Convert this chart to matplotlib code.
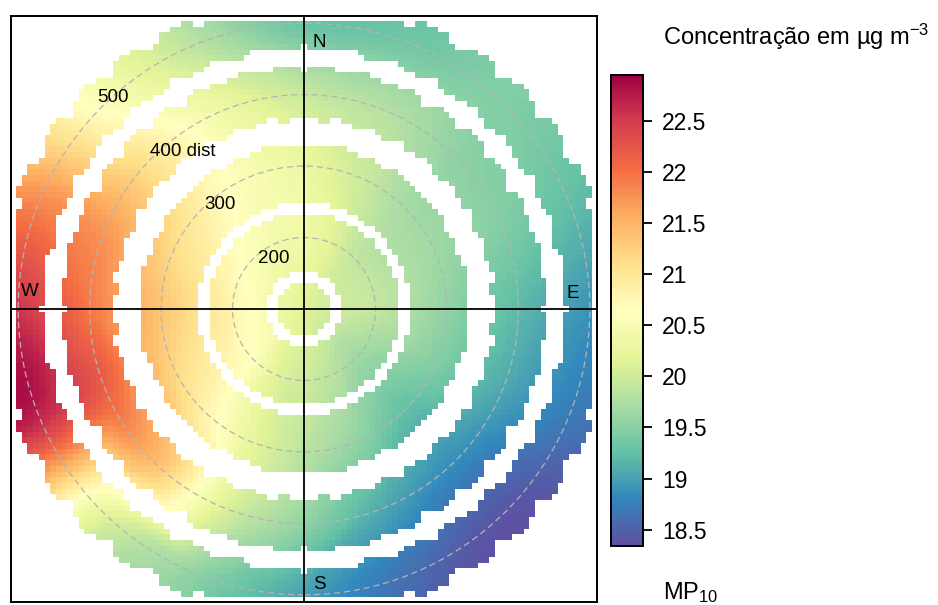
import numpy as np
import matplotlib
matplotlib.use("Agg")
import matplotlib.pyplot as plt
import matplotlib.tri as mtri

plt.rcParams['font.family'] = ['Liberation Sans', 'DejaVu Sans']
plt.rcParams['mathtext.fontset'] = 'custom'
plt.rcParams['mathtext.rm'] = 'Liberation Sans'
plt.rcParams['mathtext.it'] = 'Liberation Sans:italic'

# sectors in degrees from north, clockwise
directions = [0, 22.5, 45, 67.5, 90, 112.5, 135, 157.5,
              180, 202.5, 225, 247.5, 270, 292.5, 315, 337.5]
dist_min = 100
centre_value = 20.15
# smoothed MP10 (ug/m3) per sector at each distance
mp10_200 = [20.35, 20.15, 19.9, 19.9, 19.9, 19.75, 19.65, 19.85,
            20.0, 20.15, 20.6, 20.75, 20.8, 20.7, 20.55, 20.4]
mp10_300 = [20.3, 20.0, 19.7, 19.65, 19.55, 19.45, 19.25, 19.55,
            19.85, 20.25, 20.85, 21.2, 21.35, 21.15, 20.85, 20.5]
mp10_400 = [19.95, 19.8, 19.55, 19.45, 19.2, 19.05, 18.85, 19.05,
            19.55, 20.15, 21.45, 22.15, 21.95, 21.7, 21.0, 20.35]
mp10_500 = [19.3, 19.35, 19.45, 19.25, 18.9, 18.7, 18.4, 18.6,
            19.0, 19.55, 20.25, 22.65, 22.55, 21.8, 20.6, 19.85]
mp10_550 = [19.25, 19.3, 19.45, 19.2, 18.85, 18.6, 18.35, 18.5,
            18.95, 19.5, 20.1, 22.75, 22.6, 21.7, 20.5, 19.75]
row_dists = [200, 300, 400, 500, 550]

# distance bands that hold observations
band_start = [100, 153, 248, 364, 461]
band_end = [136, 236, 331, 440, 536]

circle_dists = [200, 300, 400, 500]
circle_labels = ['200', '300', '400 dist', '500']
cbar_ticks = [18.5, 19, 19.5, 20, 20.5, 21, 21.5, 22, 22.5]
vmin, vmax = 18.34, 22.95

# nodes of the surface in x/y (distance above the minimum)
rows = [mp10_200, mp10_300, mp10_400, mp10_500, mp10_550]
xn, yn, zn = [0.0], [0.0], [centre_value]
for d, vals in zip(row_dists, rows):
    for wd, v in zip(directions, vals):
        u = d - dist_min
        xn.append(u * np.sin(np.radians(wd)))
        yn.append(u * np.cos(np.radians(wd)))
        zn.append(v)
tri = mtri.Triangulation(xn, yn)
interp = mtri.CubicTriInterpolator(tri, zn, kind='geom')

# 101 x 101 grid like openair
lim = 403
edges = np.linspace(-lim, lim, 102)
mids = (edges[:-1] + edges[1:]) / 2
gx, gy = np.meshgrid(mids, mids)
z = interp(gx, gy)

# keep cells close to a 10 degree sector inside each band
r = np.hypot(gx, gy)
theta = np.degrees(np.arctan2(gx, gy)) % 360
off = (theta - 5) % 10
off = np.minimum(off, 10 - off)
t = r * np.sin(np.radians(off))
keep = np.zeros_like(r, dtype=bool)
for lo, hi in zip(band_start, band_end):
    rc = (lo + hi) / 2 - dist_min
    a = (hi - lo) / 2
    keep |= ((r - rc) / a) ** 2 + (t / 46.0) ** 2 <= 1
z = np.ma.masked_where(~keep | np.ma.getmaskarray(z), z)

fig = plt.figure(figsize=(9.38, 6.05), dpi=100)
ax = fig.add_axes([11 / 938, 3 / 605, 586 / 938, 586 / 605])
mesh = ax.pcolormesh(edges, edges, z, cmap='Spectral_r', vmin=vmin, vmax=vmax,
                     shading='flat', antialiased=False, edgecolors='none')

for d in circle_dists:
    ax.add_patch(plt.Circle((0, 0), d - dist_min, fill=False, ec='#b4b4b4',
                            lw=0.9, ls=(0, (5, 3))))
for d, lab in zip(circle_dists, circle_labels):
    u = d - dist_min
    ax.text(-0.75 * u + 10, 0.75 * u - 4, lab, ha='left', va='center',
            fontsize=13.5, color='black')

ax.axhline(0, color='black', lw=1.3)
ax.axvline(0, color='black', lw=1.3)
ax.text(22, 373, 'N', ha='center', va='center', fontsize=13.5)
ax.text(22, -386, 'S', ha='center', va='center', fontsize=13.5)
ax.text(-384, 24, 'W', ha='center', va='center', fontsize=13.5)
ax.text(376, 22, 'E', ha='center', va='center', fontsize=13.5)

ax.set_xlim(-410, 410)
ax.set_ylim(-410, 410)
ax.set_xticks([])
ax.set_yticks([])
for s in ax.spines.values():
    s.set_linewidth(1.4)

cax = fig.add_axes([611 / 938, 59 / 605, 32 / 938, 471 / 605])
cb = fig.colorbar(mesh, cax=cax, ticks=cbar_ticks)
cb.ax.set_yticklabels(['%g' % v for v in cbar_ticks])
cb.ax.tick_params(length=6.5, width=1.3, labelsize=16.5, pad=7)
cb.outline.set_linewidth(1.4)

fig.text(663 / 938, (605 - 45) / 605, 'Concentração em µg m$^{-3}$',
         fontsize=17, ha='left', va='baseline')
fig.text(663 / 938, (605 - 599) / 605, 'MP$_{10}$',
         fontsize=17, ha='left', va='baseline')

fig.savefig('out.png', dpi=100)
